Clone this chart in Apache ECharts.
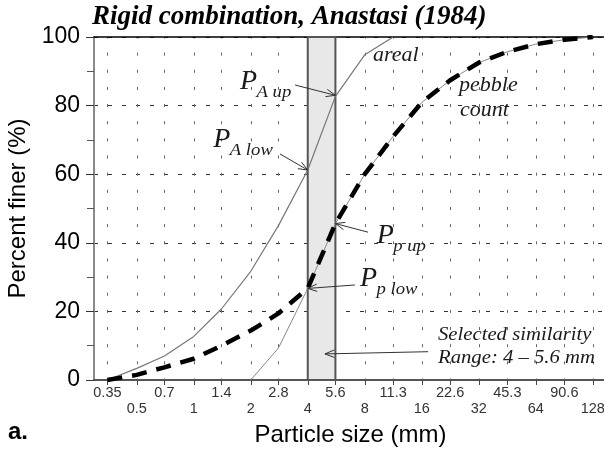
<!DOCTYPE html>
<html><head><meta charset="utf-8">
<script src="https://cdn.jsdelivr.net/npm/echarts@6/dist/echarts.min.js"></script>
<style>html,body{margin:0;padding:0;background:#fff}#c{width:604px;height:454px}</style>
</head><body><div id="c"></div>
<script>
// ---- data (particle size in mm, percent finer) ----
const tickLabels = ['0.35','0.5','0.7','1','1.4','2','2.8','4','5.6','8','11.3','16','22.6','32','45.3','64','90.6','128'];
const arealSize = [0.35,0.5,0.7,1,1.4,2,2.8,4,5.6,8,11.3];
const arealPct  = [0,3.4,7,12.7,20.7,31.7,45,61.2,82.7,94.8,100];
const pebbleSize = [2,2.8,4,5.6,8,11.3,16,22.6,32,45.3,64,90.6,128];
const pebblePct  = [0,9.3,26.7,45.6,60,71,80.9,87.4,92.5,95.7,97.9,99.2,100];
const comboSize = [0.35,0.5,0.7,1,1.4,2,2.8,4,5.6,8,11.3,16,22.6,32,45.3,64,90.6,128];
const comboPct  = [0,1.5,3.7,6.2,10,14.4,19.4,26.7,45.6,60,71,80.9,87.4,92.5,95.7,97.9,99.2,100];
const rangeMM = [4, 5.6];
// annotations [mm, percent]
const arrowTail = [[3.43,86.0],[2.854,65.9],[8.32,43.1],[7.1,27.7],[17.3,8.25]];
const arrowHead = [[5.6,83],[4,61.2],[5.6,45.6],[4,26.7],[4.93,7.6]];
const noteText = ['areal','pebble','count','Selected similarity','Range: 4 \u2013 5.6 mm'];
const notePos  = [[8.85,94.7],[25.2,86.0],[25.5,78.7],[19.5,13.0],[19.5,6.2]];
const pSub = ['A up','A low','p up','p low'];
const pPos = [[1.755,84.1],[1.268,67.1],[9.25,39.1],[7.55,26.7]];

const L = Math.log2;
const tickVals = tickLabels.map(s => L(parseFloat(s)));
const pair = (xs, ys) => xs.map((x, i) => [L(x), ys[i]]);
const SERIF = "'Liberation Serif','Times New Roman',serif";
const SANS = "'Liberation Sans',Arial,sans-serif";

const chart = echarts.init(document.getElementById('c'), null, {renderer:'canvas'});
const xBase = {type:'value', min:-1.75, max:7.25};
chart.setOption({
  animation:false,
  backgroundColor:'#fff',
  title:{text:'Rigid combination, Anastasi (1984)', left:92, top:4, padding:0,
    textStyle:{fontFamily:SERIF, fontStyle:'italic', fontWeight:'bold', fontSize:27, color:'#000'}},
  graphic:[{type:'text', left:8, top:420, style:{text:'a.', font:"bold 24px 'Liberation Sans'", fill:'#000'}}],
  grid:{left:94, top:37, width:513, height:343, outerBoundsMode:'none', containLabel:false},
  xAxis:[Object.assign({}, xBase, {
    position:'bottom',
    name:'Particle size (mm)', nameLocation:'middle', nameGap:43,
    nameTextStyle:{fontFamily:SANS, fontSize:24, color:'#000'},
    axisLine:{onZero:false, lineStyle:{color:'#555', width:2}},
    axisTick:{customValues:tickVals, length:5, lineStyle:{color:'#444'}},
    axisLabel:{customValues:tickVals, margin:5, fontFamily:SANS, fontSize:14.5, lineHeight:16, color:'#333',
      formatter:function(v){
        let bi=0, bd=1e9; tickVals.forEach((t,i)=>{const d=Math.abs(t-v); if(d<bd){bd=d;bi=i;}});
        return bi%2===0 ? tickLabels[bi] : '\n'+tickLabels[bi];
      }},
    splitLine:{show:true, lineStyle:{color:'#666', width:1, type:[3,14.15], dashOffset:1.5}}
  }), Object.assign({}, xBase, {
    position:'top', axisLine:{onZero:false, lineStyle:{color:'#000', width:1.5}},
    axisTick:{show:false}, axisLabel:{show:false}, splitLine:{show:false}
  })],
  yAxis:{type:'value', min:0, max:100, interval:20,
    name:'Percent finer (%)', nameLocation:'middle', nameGap:51,
    nameTextStyle:{fontFamily:SANS, fontSize:24, color:'#000'},
    axisLine:{show:true, onZero:false, lineStyle:{color:'#8a8a8a', width:2}},
    axisTick:{show:true, length:8, lineStyle:{color:'#333'}},
    minorTick:{show:true, splitNumber:2, length:7, lineStyle:{color:'#555'}},
    axisLabel:{margin:14, fontFamily:SANS, fontSize:23, color:'#000'},
    splitLine:{show:true, lineStyle:{color:'#333', width:1, type:[4,10]}}
  },
  series:[
    {type:'line', z:-1, data:[], silent:true,
     markArea:{silent:true, itemStyle:{color:'#e8e8e8', borderColor:'#555', borderWidth:2},
       data:[[{xAxis:L(rangeMM[0]), yAxis:0},{xAxis:L(rangeMM[1]), yAxis:100}]]}},
    {name:'areal', type:'line', data:pair(arealSize, arealPct), showSymbol:false, symbol:'none',
     lineStyle:{color:'#777', width:1.2}, z:3},
    {name:'pebble', type:'line', data:pair(pebbleSize, pebblePct), showSymbol:false, symbol:'none',
     lineStyle:{color:'#888', width:1}, z:3},
    {name:'combination', type:'line', data:pair(comboSize, comboPct), showSymbol:false, symbol:'none',
     lineStyle:{color:'#000', width:4.5, type:[15,10], cap:'butt'}, z:4},
    {type:'custom', z:6, clip:false, silent:true,
     data: arrowTail.map((t,i)=>[L(t[0]), t[1], L(arrowHead[i][0]), arrowHead[i][1]]),
     encode:{x:[0,2], y:[1,3]},
     renderItem:function(params, api){
       const p1 = api.coord([api.value(0), api.value(1)]);
       const p2 = api.coord([api.value(2), api.value(3)]);
       const a = Math.atan2(p1[1]-p2[1], p1[0]-p2[0]);
       const h = 10, s = 0.38;
       const st = {stroke:'#333', lineWidth:1, fill:null};
       return {type:'group', children:[
         {type:'line', shape:{x1:p1[0], y1:p1[1], x2:p2[0], y2:p2[1]}, style:st},
         {type:'polyline', shape:{points:[
           [p2[0]+h*Math.cos(a+s), p2[1]+h*Math.sin(a+s)], p2,
           [p2[0]+h*Math.cos(a-s), p2[1]+h*Math.sin(a-s)]]}, style:st}
       ]};
     }},
    {type:'custom', z:7, clip:false, silent:true,
     data: notePos.map((p,i)=>[L(p[0]), p[1], i]),
     encode:{x:0, y:1},
     renderItem:function(params, api){
       const i = api.value(2);
       const p = api.coord([api.value(0), api.value(1)]);
       const small = i>=3;
       return {type:'text', x:p[0], y:p[1], scaleX: small ? 1.15 : 1, style:{text:noteText[i], x:0, y:0,
         fontFamily:SERIF, fontStyle:'italic', fontSize: small ? 18 : 22, fill:'#1a1a1a', align:'left', verticalAlign:'middle'}};
     }},
    {type:'custom', z:7, clip:false, silent:true,
     data: pPos.map((p,i)=>[L(p[0]), p[1], i]),
     encode:{x:0, y:1},
     renderItem:function(params, api){
       const i = api.value(2);
       const p = api.coord([api.value(0), api.value(1)]);
       return {type:'group', x:p[0], y:p[1], children:[
         {type:'text', x:0, y:-0.35*28, style:{text:'P', fontFamily:SERIF, fontStyle:'italic', fontSize:28,
           fill:'#1a1a1a', align:'left', verticalAlign:'middle'}},
         {type:'text', x:16.5, y:7-0.35*17, scaleX:1.1, style:{text:pSub[i], fontFamily:SERIF, fontStyle:'italic', fontSize:17,
           fill:'#1a1a1a', align:'left', verticalAlign:'middle'}}
       ]};
     }}
  ]
});
</script></body></html>
